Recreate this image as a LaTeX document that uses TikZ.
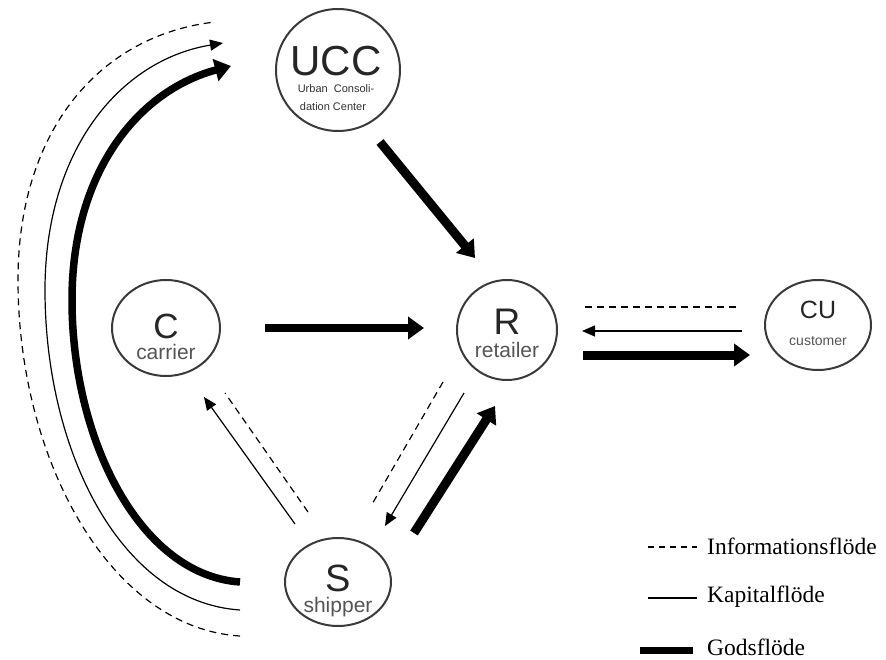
\documentclass[tikz,border=0pt]{standalone}
\usepackage{fontspec}
\setmainfont{Liberation Sans}
\newfontfamily\legendfont{Liberation Serif}
\usetikzlibrary{arrows.meta}

\definecolor{ring}{HTML}{3A3A3A}
\definecolor{sublabel}{HTML}{555555}

\tikzset{
  actor/.style={draw=ring, line width=2pt, fill=white},
  bigletter/.style={inner sep=0pt, font=\fontsize{#1}{#1}\selectfont, text=black!85},
  smalllabel/.style={inner sep=0pt, font=\fontsize{#1}{#1}\selectfont, text=sublabel},
  goods/.style={line width=9pt, -{Triangle[length=16pt, width=22pt]}},
  goodsline/.style={line width=7pt},
  capital/.style={line width=1.2pt, -{Triangle[length=13pt, width=11pt]}},
  capitalline/.style={line width=1.2pt},
  info/.style={line width=1.2pt, dash pattern=on 7pt off 5pt},
  legendtext/.style={anchor=west, inner sep=0pt, font=\legendfont\fontsize{23.5}{23.5}\selectfont},
}

\begin{document}
\begin{tikzpicture}[x=1pt, y=-1pt]
  \useasboundingbox (0,0) rectangle (886,660);

  % actors
  \draw[actor] (338,70) ellipse [x radius=62, y radius=61];
  \draw[actor] (166,328) ellipse [x radius=54, y radius=48];
  \draw[actor] (507,330) ellipse [x radius=50, y radius=50];
  \draw[actor] (818,325) ellipse [x radius=53, y radius=45];
  \draw[actor] (338,582) ellipse [x radius=53, y radius=44];

  % actor labels
  \node[bigletter=42] (ucc) at (336,61) {UCC};
  \node[smalllabel=11, text=black!80] (uccsub1) at (336,89) {Urban\ \ Consoli-};
  \node[smalllabel=11, text=black!80] (uccsub2) at (333,107) {dation Center};
  \node[bigletter=35] (c) at (166,326) {C};
  \node[smalllabel=21] (csub) at (166,352) {carrier};
  \node[bigletter=37] (r) at (507,322) {R};
  \node[smalllabel=21] (rsub) at (507,350) {retailer};
  \node[bigletter=25] (cu) at (818,310) {CU};
  \node[smalllabel=14] (cusub) at (818,341) {customer};
  \node[bigletter=38] (s) at (338,578) {S};
  \node[smalllabel=21] (ssub) at (338,607) {shipper};

  % connector end points
  \coordinate (uccR1) at (380,142);  \coordinate (uccR2) at (475,258);
  \coordinate (cR1) at (265,328);    \coordinate (cR2) at (424,328);
  \coordinate (rcuI1) at (585,307);  \coordinate (rcuI2) at (738,307);
  \coordinate (curK1) at (742,331);  \coordinate (curK2) at (582,331);
  \coordinate (rcuG1) at (583,355);  \coordinate (rcuG2) at (750,355);
  \coordinate (srG1) at (414,533);   \coordinate (srG2) at (495,406);
  \coordinate (rsK1) at (464,393);   \coordinate (rsK2) at (385,526);
  \coordinate (rsI1) at (443,382);   \coordinate (rsI2) at (371,506);
  \coordinate (scK1) at (295,524);   \coordinate (scK2) at (204,397);
  \coordinate (scI1) at (308,512);   \coordinate (scI2) at (225,393);

  % flows between actors
  \draw[goods] (uccR1) -- (uccR2);
  \draw[goods, line width=8pt] (cR1) -- (cR2);
  \draw[info] (rcuI1) -- (rcuI2);
  \draw[capital] (curK1) -- (curK2);
  \draw[goods] (rcuG1) -- (rcuG2);
  \draw[goods] (srG1) -- (srG2);
  \draw[capital] (rsK1) -- (rsK2);
  \draw[info] (rsI1) -- (rsI2);
  \draw[capital] (scK1) -- (scK2);
  \draw[info] (scI1) -- (scI2);

  % long flows from shipper to the consolidation center
  \coordinate (sgA) at (240,582); \coordinate (sgB) at (231,66);
  \coordinate (skA) at (240,610); \coordinate (skB) at (223,43);
  \coordinate (siA) at (240,636); \coordinate (siB) at (215,22);
  \draw[goods, line width=7.5pt] (sgA) .. controls (140,575) and (72,440) .. (72,300)
        .. controls (72,170) and (140,90) .. (sgB);
  \draw[capital] (skA) .. controls (120,602) and (45,450) .. (45,290)
        .. controls (45,150) and (120,60) .. (skB);
  \draw[info] (siA) .. controls (110,628) and (18,460) .. (18,280)
        .. controls (18,130) and (100,35) .. (siB);

  % legend
  \coordinate (l1a) at (648,547); \coordinate (l1b) at (697,547);
  \coordinate (l2a) at (648,598); \coordinate (l2b) at (697,598);
  \coordinate (l3a) at (640,650); \coordinate (l3b) at (693,650);
  \draw[info, dash pattern=on 6pt off 5pt] (l1a) -- (l1b);
  \draw[capitalline] (l2a) -- (l2b);
  \draw[goodsline] (l3a) -- (l3b);
  \node[legendtext] (leg1) at (707,546) {Informationsflöde};
  \node[legendtext] (leg2) at (707,597) {Kapitalflöde};
  \node[legendtext] (leg3) at (707,647) {Godsflöde};
\end{tikzpicture}
\end{document}
